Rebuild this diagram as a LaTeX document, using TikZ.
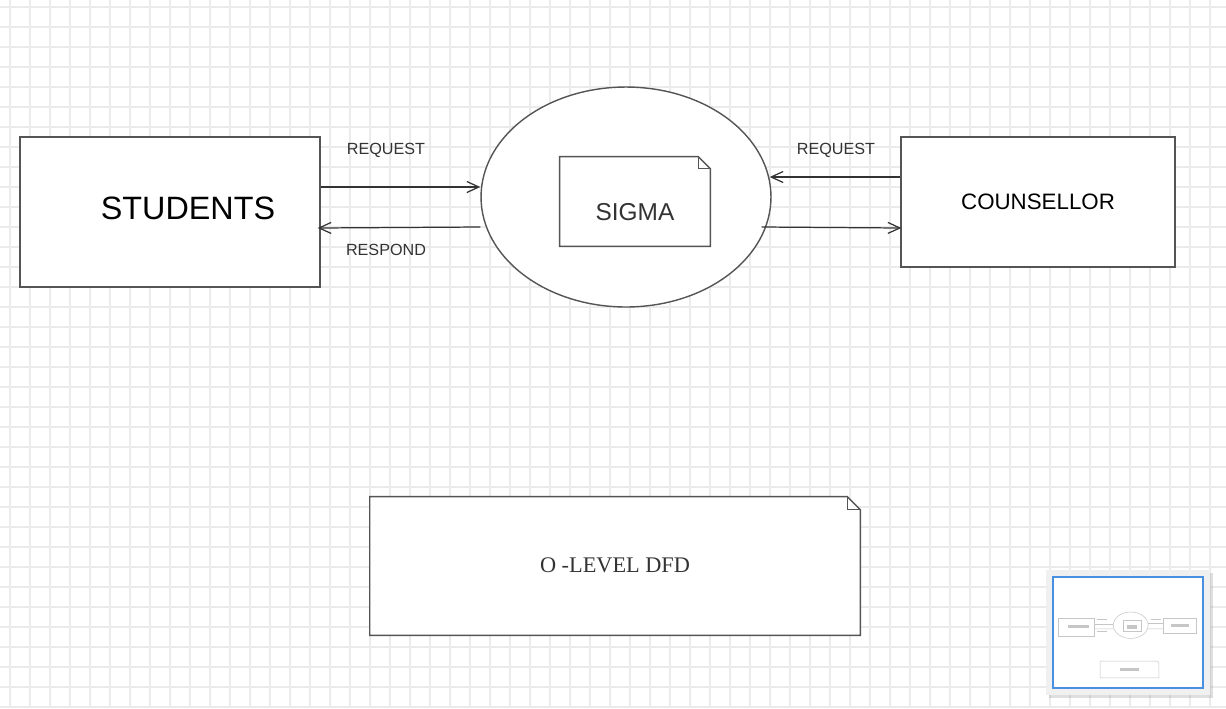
\documentclass[tikz,border=0pt]{standalone}
\usepackage{fontspec}
\setmainfont{Liberation Sans}
\newfontfamily\dfdserif{Liberation Serif}
\usetikzlibrary{shapes.geometric,arrows.meta,shadows}
\definecolor{inkline}{HTML}{555555}
\definecolor{inkarrow}{HTML}{333333}
\definecolor{inktext}{HTML}{333333}
\definecolor{gridgray}{HTML}{EBEBEB}
\definecolor{mapblue}{HTML}{4A90E2}
% outline of a note with a folded top right corner, #1 node, #2 fold in px
\newcommand{\notefold}[2]{%
  \draw[noteline, fill=white] (#1.south west) -- (#1.north west) -- ([shift={(-#2,0)}]#1.north east) -- ([shift={(0,#2)}]#1.north east) -- (#1.south east) -- cycle;
  \draw[noteline] ([shift={(-#2,0)}]#1.north east) -- ([shift={(-#2,#2)}]#1.north east) -- ([shift={(0,#2)}]#1.north east);
}
\begin{document}
\begin{tikzpicture}[x=0.02cm, y=-0.02cm]
\tikzstyle{gridline} = [draw=gridgray, line width=0.8pt]
\tikzstyle{entity}   = [rectangle, draw=inkline, line width=0.8pt, fill=white, inner sep=0pt]
\tikzstyle{process}  = [ellipse, draw=inkline, line width=0.8pt, fill=white, inner sep=0pt, minimum width=5.8cm, minimum height=4.4cm]
\tikzstyle{noteshape}= [rectangle, draw=none, inner sep=0pt]
\tikzstyle{noteline} = [draw=inkline, line width=0.8pt, line join=miter]
\tikzstyle{flow}     = [draw=inkarrow, line width=0.7pt, -{Straight Barb[length=2.4mm, width=2.2mm, line width=0.7pt]}]
\tikzstyle{flowlbl}  = [text=inktext, font=\fontsize{9.2}{11}\selectfont, inner sep=0pt]
\useasboundingbox (0,0) rectangle (1226,708);
\fill[white] (0,0) rectangle (1226,708);
% grid
\foreach \gx in {10,30,...,1210} \draw[gridline] (\gx,0) -- (\gx,708);
\foreach \gy in {7,27,...,707} \draw[gridline] (0,\gy) -- (1226,\gy);
% external entities and process
\node[entity, minimum width=6cm, minimum height=3cm] at (170,212) (students) {};
\node[text=black, font=\fontsize{18.4}{22}\selectfont] at (188,208) (studentslbl) {STUDENTS};
\node[entity, minimum width=5.48cm, minimum height=2.6cm, text=black, font=\fontsize{12.7}{15}\selectfont] at (1038,202) (counsellor) {COUNSELLOR};
\node[process] at (626,197) (sigmaproc) {};
\node[noteshape, minimum width=3cm, minimum height=1.78cm] at (635,201.5) (sigmanote) {};
\notefold{sigmanote}{12}
\node[text=inktext, font=\fontsize{13.9}{16}\selectfont] at (635,212) (sigmalbl) {SIGMA};
% data flows
\draw[flow] ([shift={(0,-25)}]students.east) -- ([shift={(0,-10)}]sigmaproc.west);
\draw[flow] ([shift={(0,30)}]sigmaproc.west) -- ([shift={(-3,16)}]students.east);
\draw[flow] ([shift={(0,-25)}]counsellor.west) -- ([shift={(-2,-20)}]sigmaproc.east);
\draw[flow] ([shift={(-10,30)}]sigmaproc.east) -- ([shift={(1,26)}]counsellor.west);
\node[flowlbl] at (386,150) (reqleft) {REQUEST};
\node[flowlbl] at (386,250) (respleft) {RESPOND};
\node[flowlbl] at (836,150) (reqright) {REQUEST};
% title note
\node[noteshape, minimum width=9.8cm, minimum height=2.76cm] at (615,566) (levelnote) {};
\notefold{levelnote}{13}
\node[text=inktext, font=\dfdserif\fontsize{12.7}{15}\selectfont] at (615,565) (levellbl) {O -LEVEL DFD};
% overview map
\fill[gray!12, drop shadow={opacity=0.25, shadow xshift=0.6mm, shadow yshift=-0.6mm}] (1046,570) rectangle (1210,695);
\draw[mapblue, fill=white, line width=0.6pt] (1053,577) rectangle (1203,688);
\begin{scope}[shift={(1055.6,601.56)}, scale=0.12, draw=gray!45, line width=0.3pt]
\draw (20,137) rectangle (320,287);
\draw (901,137) rectangle (1175,267);
\draw (626,197) ellipse [x radius=145, y radius=110];
\draw (560,157) rectangle (710,246);
\draw (370,497) -- (370,635) -- (860,635) -- (860,510) -- (847,497) -- cycle;
\draw (320,187) -- (481,187);
\draw (481,227) -- (317,228);
\draw (901,177) -- (769,177);
\draw (761,227) -- (901,228);
\draw[line width=1pt] (347,150) -- (425,150);
\draw[line width=1pt] (347,250) -- (427,250);
\draw[line width=1pt] (797,150) -- (875,150);
\draw[line width=2pt] (100,208) -- (275,208);
\draw[line width=2pt] (596,212) -- (675,212);
\draw[line width=2pt] (961,199) -- (1115,199);
\draw[line width=2pt] (540,565) -- (691,565);
\end{scope}
\end{tikzpicture}
\end{document}
